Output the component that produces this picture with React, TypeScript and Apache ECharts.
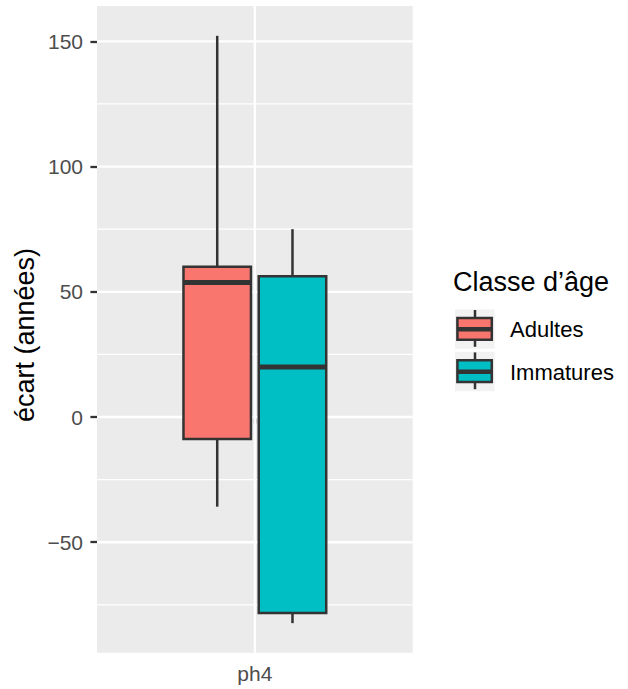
import React, { useEffect, useRef } from "react";
import * as echarts from "echarts";

// ---- data ----
const categories = ["ph4"];
const groups = ["Adultes", "Immatures"];
// [min whisker, Q1, median, Q3, max whisker]
const adultes = [-35.8, -8.8, 53.7, 60.0, 152.2];
const immatures = [-82.3, -78.2, 20.0, 56.2, 75.0];
const yLimits = [-94.1, 164.1];
const majorTicks = [-50, 0, 50, 100, 150];
const minorTicks = [-75, -25, 25, 75, 125];
const yTitle = "écart (années)";
const legendTitle = "Classe d’âge";

const colors = ["#F8766D", "#00BFC4"];
const LINE = "#333333";
const FONT = "'Liberation Sans', Arial, Helvetica, sans-serif";
const LW = 2.5;
const MED = 5;

export default function App() {
  const ref = useRef<HTMLDivElement>(null);
  useEffect(() => {
    if (!ref.current) return;
    const chart = echarts.init(ref.current, null, { renderer: "svg" });

    const boxWidthFrac = 0.2138;
    const offsetFrac = 0.1192;

    const boxSeries = [adultes, immatures].map((vals, gi) => ({
      type: "custom",
      name: groups[gi],
      z: 3,
      clip: false,
      data: [[0, ...vals]],
      encode: { x: 0, y: [1, 2, 3, 4, 5] },
      renderItem: (params: any, api: any) => {
        const cat = api.value(0);
        const band = api.size([1, 0])[0];
        const off = (gi === 0 ? -1 : 1) * offsetFrac * band;
        const half = (boxWidthFrac * band) / 2;
        const pMin = api.coord([cat, api.value(1)]);
        const pQ1 = api.coord([cat, api.value(2)]);
        const pMed = api.coord([cat, api.value(3)]);
        const pQ3 = api.coord([cat, api.value(4)]);
        const pMax = api.coord([cat, api.value(5)]);
        const cx = pMin[0] + off;
        return {
          type: "group",
          children: [
            {
              type: "line",
              shape: { x1: cx, y1: pMax[1], x2: cx, y2: pQ3[1] },
              style: { stroke: LINE, lineWidth: LW },
            },
            {
              type: "line",
              shape: { x1: cx, y1: pQ1[1], x2: cx, y2: pMin[1] },
              style: { stroke: LINE, lineWidth: LW },
            },
            {
              type: "rect",
              shape: { x: cx - half, y: pQ3[1], width: 2 * half, height: pQ1[1] - pQ3[1] },
              style: { fill: colors[gi], stroke: LINE, lineWidth: LW },
            },
            {
              type: "line",
              shape: { x1: cx - half, y1: pMed[1], x2: cx + half, y2: pMed[1] },
              style: { stroke: LINE, lineWidth: MED },
            },
          ],
        };
      },
    }));

    const gridSeries = {
      type: "custom",
      name: "grid",
      z: 1,
      silent: true,
      data: [
        ...minorTicks.map((v) => [0, v, 0]),
        ...majorTicks.map((v) => [0, v, 1]),
      ],
      encode: { x: 0, y: 1 },
      renderItem: (params: any, api: any) => {
        const cs = params.coordSys;
        const p = api.coord([api.value(0), api.value(1)]);
        const major = api.value(2) === 1;
        return {
          type: "line",
          shape: { x1: cs.x, y1: p[1], x2: cs.x + cs.width, y2: p[1] },
          style: { stroke: "#FFFFFF", lineWidth: major ? 2.3 : 1.2 },
        };
      },
    };

    const vGridSeries = {
      type: "custom",
      name: "vgrid",
      z: 1,
      silent: true,
      data: categories.map((_, i) => [i, 0]),
      encode: { x: 0, y: 1 },
      renderItem: (params: any, api: any) => {
        const cs = params.coordSys;
        const p = api.coord([api.value(0), 0]);
        return {
          type: "line",
          shape: { x1: p[0], y1: cs.y, x2: p[0], y2: cs.y + cs.height },
          style: { stroke: "#FFFFFF", lineWidth: 2.3 },
        };
      },
    };

    const keyTop = [309.3, 351.7];
    const keyLabelY = [329, 372];
    const legendGraphics: any[] = [
      {
        type: "text",
        x: 453,
        y: 282,
        style: {
          text: legendTitle,
          fontSize: 27,
          fontFamily: FONT,
          fill: "#000000",
          align: "left",
          verticalAlign: "middle",
        },
      },
    ];
    groups.forEach((g, i) => {
      const t = keyTop[i];
      legendGraphics.push(
        { type: "rect", shape: { x: 455, y: t, width: 39.5, height: 39.5 }, style: { fill: "#F2F2F2" } },
        { type: "line", shape: { x1: 475, y1: t + 0.7, x2: 475, y2: t + 8.5 }, style: { stroke: LINE, lineWidth: LW } },
        { type: "line", shape: { x1: 475, y1: t + 30.5, x2: 475, y2: t + 37.5 }, style: { stroke: LINE, lineWidth: LW } },
        {
          type: "rect",
          shape: { x: 457.4, y: t + 8.6, width: 34.4, height: 21.8 },
          style: { fill: colors[i], stroke: LINE, lineWidth: LW },
        },
        { type: "line", shape: { x1: 457.4, y1: t + 20, x2: 491.8, y2: t + 20 }, style: { stroke: LINE, lineWidth: 4.4 } },
        {
          type: "text",
          x: 510,
          y: keyLabelY[i],
          style: { text: g, fontSize: 22, fontFamily: FONT, fill: "#000000", align: "left", verticalAlign: "middle" },
        }
      );
    });

    chart.setOption({
      animation: false,
      backgroundColor: "#FFFFFF",
      textStyle: { fontFamily: FONT },
      grid: {
        left: 97,
        right: 628 - 412.7,
        top: 6,
        bottom: 689 - 652.7,
        show: true,
        backgroundColor: "#EBEBEB",
        borderWidth: 0,
      },
      xAxis: {
        type: "category",
        data: categories,
        axisLine: { show: false },
        axisTick: { show: true, alignWithLabel: true, length: 6.6, lineStyle: { color: LINE, width: 2.3 } },
        axisLabel: { color: "#4D4D4D", fontSize: 21, margin: 10, fontFamily: FONT },
        splitLine: { show: false },
      },
      yAxis: {
        type: "value",
        min: yLimits[0],
        max: yLimits[1],
        axisLine: { show: false },
        axisTick: { show: true, length: 6.6, customValues: majorTicks, lineStyle: { color: LINE, width: 2.3 } },
        axisLabel: {
          color: "#4D4D4D",
          fontSize: 21,
          margin: 14,
          fontFamily: FONT,
          customValues: majorTicks,
          formatter: (v: number) => (majorTicks.includes(Math.round(v * 1000) / 1000) ? String(v).replace("-", "\u2212") : ""),
        },
        splitLine: { show: false },
        minorSplitLine: { show: false },
      },
      series: [gridSeries, vGridSeries, ...boxSeries],
      graphic: [
        {
          type: "text",
          x: 25,
          y: 335,
          rotation: Math.PI / 2,
          style: {
            text: yTitle,
            fontSize: 27,
            fontFamily: FONT,
            fill: "#000000",
            align: "center",
            verticalAlign: "middle",
          },
        },
        ...legendGraphics,
      ],
    });
    return () => chart.dispose();
  }, []);
  return (
    <div
      ref={ref}
      style={{ position: "fixed", left: 0, top: 0, width: 628, height: 689 }}
    />
  );
}
